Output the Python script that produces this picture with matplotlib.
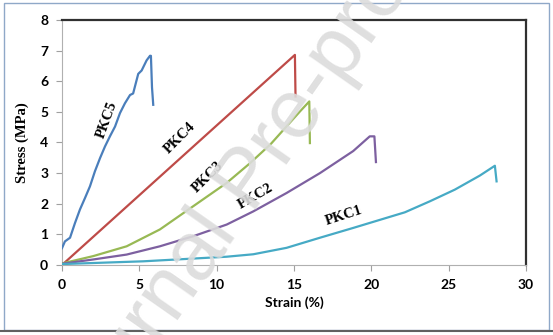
import matplotlib
matplotlib.use('Agg')
import matplotlib.pyplot as plt
from matplotlib.patches import Rectangle

# stress-strain curves
pkc5_x = [0, 0.19, 0.52, 0.84, 1.16, 1.49, 1.81, 2.13, 2.46, 2.78, 3.1, 3.43, 3.75, 4.07, 4.4, 4.6, 4.93, 5.15, 5.47, 5.69, 5.75, 5.82, 5.9]
pkc5_y = [0.55, 0.77, 0.89, 1.37, 1.81, 2.19, 2.57, 3.06, 3.49, 3.87, 4.2, 4.52, 4.96, 5.28, 5.55, 5.6, 6.24, 6.35, 6.68, 6.83, 6.83, 5.8, 5.23]
pkc4_x = [0, 15.06, 15.1]
pkc4_y = [0, 6.86, 5.5]
pkc3_x = [0, 2.02, 4.18, 6.33, 8.49, 10.65, 12.15, 13.5, 15.38, 15.99, 16.03]
pkc3_y = [0.05, 0.29, 0.61, 1.16, 1.92, 2.68, 3.32, 3.95, 5.01, 5.34, 3.98]
pkc2_x = [0, 2.02, 4.18, 6.33, 8.49, 10.65, 12.37, 14.52, 16.68, 18.83, 19.9, 20.2, 20.3]
pkc2_y = [0.04, 0.18, 0.34, 0.61, 0.94, 1.32, 1.75, 2.35, 3.0, 3.72, 4.2, 4.2, 3.36]
pkc1_x = [0, 5.26, 10.65, 12.37, 14.52, 16.68, 18.83, 20.99, 22.17, 23.79, 25.4, 27.02, 27.99, 28.1]
pkc1_y = [0.03, 0.12, 0.27, 0.35, 0.56, 0.89, 1.21, 1.54, 1.72, 2.08, 2.46, 2.92, 3.24, 2.73]

series = [
    (pkc5_x, pkc5_y, '#4A7EBB'),
    (pkc4_x, pkc4_y, '#BE4B48'),
    (pkc3_x, pkc3_y, '#98B954'),
    (pkc2_x, pkc2_y, '#7D60A0'),
    (pkc1_x, pkc1_y, '#46AAC5'),
]

# curve labels: text, x, y, rotation
labels = [
    ('PKC5', 2.9, 4.75, 70),
    ('PKC4', 7.6, 4.15, 45),
    ('PKC3', 9.4, 2.88, 45),
    ('PKC2', 12.5, 2.23, 30),
    ('PKC1', 18.2, 1.6, 18),
]

fig = plt.figure(figsize=(5.53, 3.35), dpi=100)
ax = fig.add_axes([0.1121, 0.209, 0.839, 0.7314])

for x, y, c in series:
    ax.plot(x, y, color=c, lw=1.6, zorder=3)

for txt, x, y, rot in labels:
    ax.text(x, y, txt, rotation=rot, ha='center', va='center', fontsize=10.5,
            family='Liberation Serif', fontweight='bold', zorder=1)

ax.set_xlim(0, 30)
ax.set_ylim(0, 8)
ax.set_xticks(range(0, 31, 5))
ax.set_yticks(range(0, 9))
for lab in ax.get_xticklabels() + ax.get_yticklabels():
    lab.set_family('Lato')
    lab.set_fontweight('bold')
    lab.set_fontsize(10)
ax.tick_params(axis='both', color='#a0a0a0', length=4, width=0.8, pad=6)

ax.spines['left'].set_color('#b0b0b0')
ax.spines['bottom'].set_color('#b0b0b0')
ax.spines['top'].set_color('#303030')
ax.spines['right'].set_color('#303030')
ax.spines['top'].set_linewidth(1.6)
ax.spines['right'].set_linewidth(1.6)

ax.set_xlabel('Strain (%)', family='Lato', fontweight='bold', fontsize=10, labelpad=4)
ax.set_ylabel('Stress (MPa)', family='Liberation Serif', fontweight='bold', fontsize=10.5, labelpad=8)

# watermark
fig.text(0.45, 0.46, 'Journal Pre-proof', fontsize=60, color='#dcdcdc', rotation=55,
         ha='center', va='center', family='Liberation Sans', zorder=2, alpha=0.9)

# outer frame
fig.patches.append(Rectangle((4 / 553, 5 / 335), 545 / 553, 327 / 335, transform=fig.transFigure,
                             fill=False, edgecolor='#8fa8c8', lw=1.0))
fig.patches.append(Rectangle((0, 4 / 335), 1, 0, transform=fig.transFigure,
                             fill=False, edgecolor='#606060', lw=1.5))

fig.savefig('out.png', dpi=100)
